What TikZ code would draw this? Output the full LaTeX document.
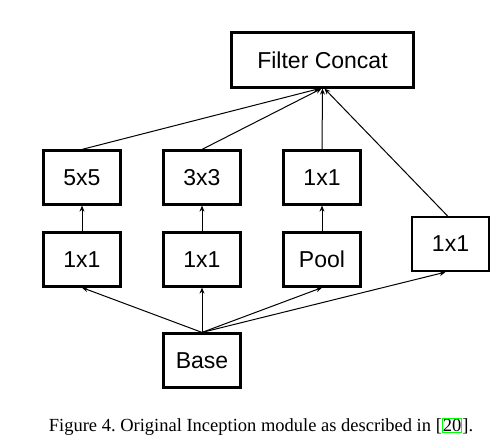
\documentclass[tikz,border=0pt]{standalone}
\usepackage{fontspec}
\setmainfont{Liberation Serif}
\newfontfamily\boxfont{Liberation Sans}
\usetikzlibrary{arrows.meta}
\definecolor{linkgreen}{rgb}{0,1,0}
\frenchspacing
\tikzset{
	blk/.style={draw, line width=2.2pt, minimum width=77pt, minimum height=54pt, inner sep=0pt, font=\boxfont\fontsize{23}{26}\selectfont},
	link/.style={line width=1pt, -{Stealth[length=6pt,width=5pt]}}
}
\begin{document}
\begin{tikzpicture}[x=1pt,y=-1pt]
			%%%%% START %%%%%
			\useasboundingbox (0,0) rectangle (500,445);
			
			\node[blk, minimum width=182pt, minimum height=55pt] (concat) at (322.5,60) {Filter Concat};
			
			\node[blk] (five) at (82,177.5) {5x5};
			\node[blk] (three) at (202,177.5) {3x3};
			\node[blk] (one) at (322,177.5) {1x1};
			
			\node[blk] (redfive) at (82,259.5) {1x1};
			\node[blk] (redthree) at (202,259.5) {1x1};
			\node[blk] (pool) at (322,259.5) {Pool};
			\node[blk] (single) at (450.5,244) {1x1};
			
			\node[blk] (base) at (202,360.5) {Base};
			
			\draw[link] (base.north) -- (redfive.south);
			\draw[link] (base.north) -- (redthree.south);
			\draw[link] (base.north) -- (pool.south);
			\draw[link] (base.north) -- ([xshift=-5pt]single.south);
			
			\draw[link] (redfive) -- (five);
			\draw[link] (redthree) -- (three);
			\draw[link] (pool) -- (one);
			
			\draw[link] (five.north) -- ([xshift=-3pt]concat.south);
			\draw[link] (three.north) -- ([xshift=-1pt]concat.south);
			\draw[link] (one.north) -- (concat.south);
			\draw[link] ([xshift=-3pt]single.north) -- ([xshift=2pt]concat.south);
			
			\node[font=\fontsize{18.5}{22}\selectfont] (caption) at (261,427) {Figure 4. Original Inception module as described in [{\fboxsep=0pt\fboxrule=1pt\color{linkgreen}\fbox{\color{black}20}}].};
			%%%%% END %%%%%
\end{tikzpicture}
\end{document}
